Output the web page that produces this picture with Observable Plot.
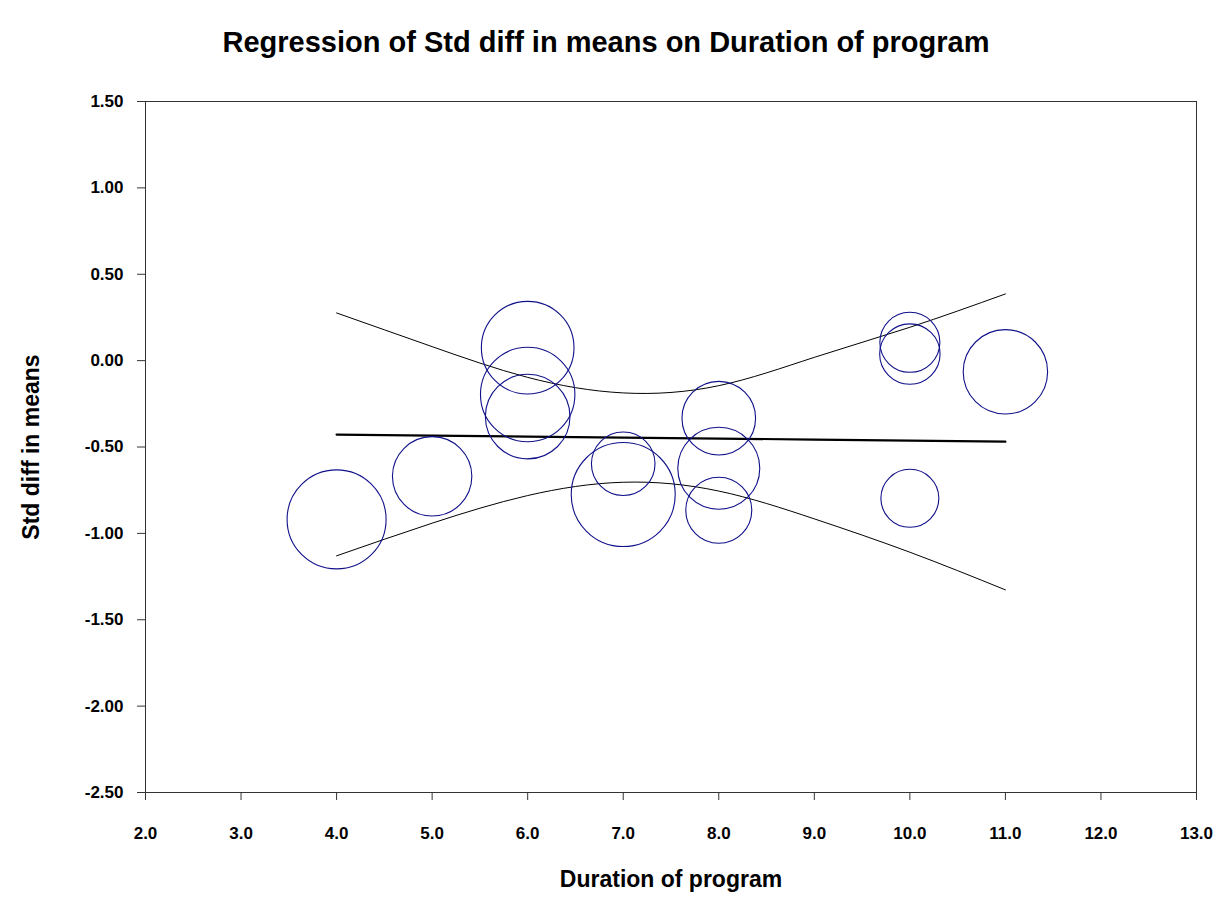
<!DOCTYPE html>
<html>
<head>
<meta charset="utf-8">
<script src="https://cdn.jsdelivr.net/npm/d3@7"></script>
<script src="https://cdn.jsdelivr.net/npm/@observablehq/plot@0.6"></script>
<style>
  body { margin: 0; background: #fff; font-family: "Liberation Sans", Arial, sans-serif; }
  #title {
    height: 80px; line-height: 84px; text-align: center;
    font-weight: bold; font-size: 29px; color: #000;
    padding-right: 6px; white-space: nowrap;
  }
  #chart svg { display: block; }
</style>
</head>
<body>
<div id="title">Regression of Std diff in means on Duration of program</div>
<div id="chart"></div>
<script>
// Studies: program duration, standardized difference in means, relative weight (%)
const duration = [4, 5, 6, 6, 6, 7, 7, 8, 8, 8, 10, 10, 10, 11];
const effect   = [-0.919, -0.670, 0.075, -0.196, -0.324, -0.597, -0.775, -0.333, -0.623, -0.866, 0.106, 0.038, -0.797, -0.065];
const weight   = [10.91, 7.02, 9.55, 9.92, 7.97, 4.50, 12.04, 6.03, 7.48, 4.85, 4.01, 4.06, 3.74, 7.93];

// Fitted regression line with its 95% confidence limits
const fitX   = [4, 5, 6, 7, 8, 9, 10, 11];
const fitted = [-0.428, -0.434, -0.440, -0.446, -0.451, -0.457, -0.463, -0.469];
const upper  = [0.276, 0.081, -0.097, -0.187, -0.145, 0.019, 0.193, 0.386];
const lower  = [-1.130, -0.941, -0.781, -0.704, -0.755, -0.916, -1.109, -1.327];

// Axis ticks
const xTicks = [2, 3, 4, 5, 6, 7, 8, 9, 10, 11, 12, 13];
const yTicks = [-2.5, -2.0, -1.5, -1.0, -0.5, 0.0, 0.5, 1.0, 1.5];

const studies = duration.map((d, i) => ({duration: d, effect: effect[i], weight: weight[i]}));
const fit = fitX.map((x, i) => ({x, fitted: fitted[i], upper: upper[i], lower: lower[i]}));

// Plain hyphen for negative numbers
const fmt = (spec) => { const f = d3.format(spec); return (d) => f(d).replace("\u2212", "-"); };

const chart = Plot.plot({
  width: 1218,
  height: 841,
  marginTop: 21,
  marginBottom: 129,
  marginLeft: 145,
  marginRight: 22,
  style: {fontFamily: "'Liberation Sans', Arial, sans-serif", fontWeight: "bold", color: "#000", background: "#fff", overflow: "visible"},
  x: {domain: [2, 13]},
  y: {domain: [-2.5, 1.5]},
  r: {type: "sqrt", domain: [0, d3.max(weight)], range: [0, 52]},
  marks: [
    Plot.frame({stroke: "#333", strokeWidth: 1}),
    Plot.axisX({
      ticks: xTicks, tickFormat: fmt(".1f"), tickSize: 8, tickPadding: 26,
      fontSize: 17, fontWeight: "bold", stroke: "#333",
      label: "Duration of program", labelAnchor: "center", labelArrow: "none", labelOffset: 94
    }),
    Plot.axisY({
      ticks: yTicks, tickFormat: fmt(".2f"), tickSize: 8, tickPadding: 14,
      fontSize: 17, fontWeight: "bold", stroke: "#333",
      label: "Std diff in means", labelAnchor: "center", labelArrow: "none", labelOffset: 123
    }),
    Plot.line(fit, {x: "x", y: "upper", curve: "natural", stroke: "#000", strokeWidth: 1}),
    Plot.line(fit, {x: "x", y: "lower", curve: "natural", stroke: "#000", strokeWidth: 1}),
    Plot.line(fit, {x: "x", y: "fitted", stroke: "#000", strokeWidth: 2.2}),
    Plot.dot(studies, {x: "duration", y: "effect", r: "weight", stroke: "#10108a", strokeWidth: 1.1, fill: "none"})
  ]
});

// Axis titles are set larger than the tick labels
chart.querySelectorAll("[aria-label='x-axis label'], [aria-label='y-axis label']").forEach(g => {
  g.setAttribute("font-size", 23);
  g.querySelectorAll("text").forEach(t => t.setAttribute("font-size", 23));
});

document.getElementById("chart").append(chart);
</script>
</body>
</html>
